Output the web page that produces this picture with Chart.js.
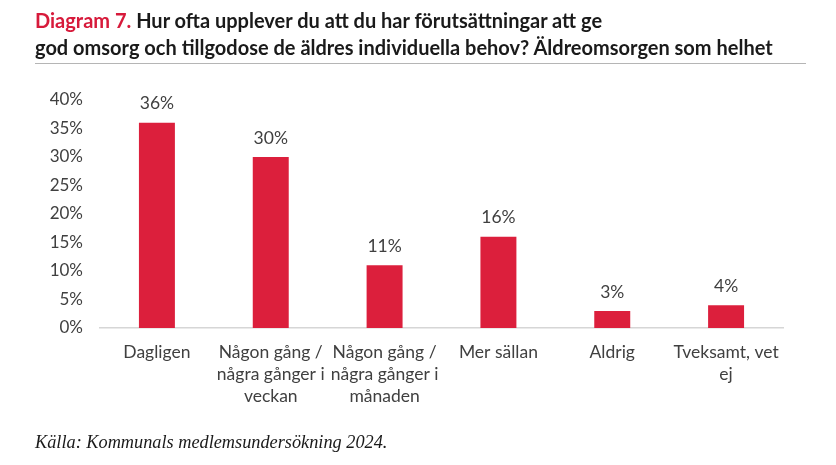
<!DOCTYPE html>
<html>
<head>
<meta charset="utf-8">
<script src="https://cdn.jsdelivr.net/npm/chart.js@4.4.1/dist/chart.umd.min.js"></script>
<style>
  html,body{margin:0;padding:0;background:#fff;width:836px;height:465px;overflow:hidden;}
  #wrap{position:absolute;left:0;top:0;width:836px;height:465px;}
  .title{position:absolute;left:35px;font-family:Lato,sans-serif;font-weight:bold;font-size:20px;color:#1a1a1a;white-space:nowrap;line-height:1;}
  .title .red{color:#d71a3b;}
  #rule{position:absolute;left:35px;top:63px;width:771px;height:1px;background:#b5b5b5;}
  #source{position:absolute;left:35px;top:433px;font-family:"Liberation Serif",serif;font-style:italic;font-size:18.3px;color:#1a1a1a;white-space:nowrap;line-height:1;}
</style>
</head>
<body>
<div id="wrap"><canvas id="c" width="836" height="465"></canvas></div>
<div class="title" style="top:10px"><span class="red">Diagram 7.</span> Hur ofta upplever du att du har förutsättningar att ge</div>
<div class="title" style="top:37px">god omsorg och tillgodose de äldres individuella behov? Äldreomsorgen som helhet</div>
<div id="rule"></div>
<div id="source">Källa: Kommunals medlemsundersökning 2024.</div>
<script>
const categories = [
  ["Dagligen"],
  ["Någon gång /", "några gånger i", "veckan"],
  ["Någon gång /", "några gånger i", "månaden"],
  ["Mer sällan"],
  ["Aldrig"],
  ["Tveksamt, vet", "ej"]
];
const values = [36, 30, 11, 16, 3, 4];
const yTicks = [0, 5, 10, 15, 20, 25, 30, 35, 40];

const textColor = "#404040";
const barColor = "#dc1f3c";

const valueLabels = {
  id: "valueLabels",
  afterDatasetsDraw(chart) {
    const ctx = chart.ctx;
    const meta = chart.getDatasetMeta(0);
    ctx.save();
    ctx.font = "17.5px Lato, sans-serif";
    ctx.fillStyle = textColor;
    ctx.textAlign = "center";
    ctx.textBaseline = "middle";
    meta.data.forEach((bar, i) => {
      ctx.fillText(values[i] + "%", bar.x, bar.y - 19);
    });
    ctx.restore();
  }
};

new Chart(document.getElementById("c"), {
  type: "bar",
  data: {
    labels: categories,
    datasets: [{
      data: values,
      backgroundColor: barColor,
      borderWidth: 0,
      categoryPercentage: 1,
      barPercentage: 0.316
    }]
  },
  options: {
    responsive: false,
    animation: false,
    devicePixelRatio: 1,
    layout: { padding: { left: 0, right: 53, top: 100, bottom: 0 } },
    plugins: { legend: { display: false }, tooltip: { enabled: false } },
    scales: {
      x: {
        grid: { display: false, drawTicks: false },
        border: { display: true, color: "#d6d6d6", width: 1.5 },
        ticks: {
          color: textColor,
          font: { family: "Lato, sans-serif", size: 17.5, lineHeight: 1.26 },
          padding: 13,
          maxRotation: 0,
          autoSkip: false
        },
        afterFit(s) { s.height = 137; }
      },
      y: {
        min: 0, max: 40,
        grid: { display: false, drawTicks: false },
        border: { display: false },
        afterBuildTicks(s) { s.ticks = yTicks.map(v => ({ value: v })); },
        ticks: {
          color: textColor,
          font: { family: "Lato, sans-serif", size: 17 },
          padding: 17,
          callback: v => v + "%"
        },
        afterFit(s) { s.width = 100; }
      }
    }
  },
  plugins: [valueLabels]
});
</script>
</body>
</html>
